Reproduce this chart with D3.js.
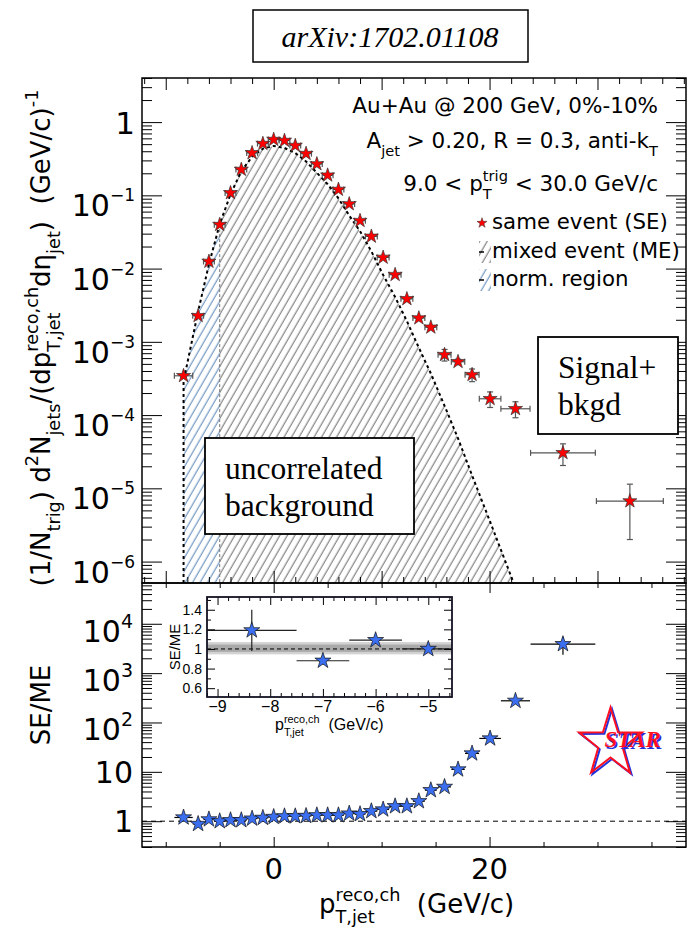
<!DOCTYPE html>
<html>
<head>
<meta charset="utf-8">
<script src="https://cdn.jsdelivr.net/npm/d3@7"></script>
<style>
  body { margin: 0; background: #fff; }
  svg text { font-family: "DejaVu Sans", sans-serif; white-space: pre; }
</style>
</head>
<body>
<div id="plot"></div>
<script>
// bin centres and half widths, p_T,jet^reco,ch (GeV/c)
const ptCenters = [-8.35, -7, -6, -5, -4, -3, -2, -1, 0, 1, 2, 3, 4, 5, 6, 7, 8,
  9.05, 10.14, 11.25, 12.34, 13.45, 14.56, 15.83, 17.08, 18.38, 20.05, 22.4, 26.8, 33.0];
const ptHalfWidth = [0.85, 0.5, 0.5, 0.5, 0.5, 0.5, 0.5, 0.5, 0.5, 0.5, 0.5, 0.5, 0.5, 0.5, 0.5, 0.5, 0.5,
  0.55, 0.55, 0.55, 0.55, 0.55, 0.55, 0.6, 0.62, 0.65, 1.0, 1.35, 3.0, 3.1];

// same event (SE) per-trigger yield
const sameEvent = [3.44e-4, 2.27e-3, 1.25e-2, 3.98e-2, 0.108, 0.225, 0.38, 0.508, 0.577, 0.559,
  0.478, 0.371, 0.268, 0.188, 0.12, 0.0763, 0.0451, 0.0275, 0.0142, 8.26e-3,
  3.86e-3, 2.11e-3, 1.58e-3, 6.67e-4, 5.35e-4, 3.56e-4, 1.67e-4, 1.22e-4, 3.05e-5, 6.7e-6];
const sameEventErr = [1.5e-5, 8e-5, 3e-4, 6e-4, 1e-3, 2e-3, 3e-3, 4e-3, 4e-3, 4e-3,
  4e-3, 3e-3, 2.5e-3, 2e-3, 1.5e-3, 1e-3, 7e-4, 5e-4, 3e-4, 2e-4,
  1.2e-4, 8e-5, 7e-5, 1.2e-4, 4.5e-5, 7e-5, 4e-5, 3e-5, 1e-5, 4.7e-6];

// mixed event (ME) distribution (dashed curve, hatched)
const mixedEvent = [2.9e-4, 2.6e-3, 1.14e-2, 4.05e-2, 0.103, 0.214, 0.336, 0.434, 0.473, 0.444,
  0.379, 0.29, 0.203, 0.142, 0.091, 0.053, 0.0324, 0.0172, 8.2e-3, 4.1e-3,
  1.92e-3, 8.3e-4, 3.7e-4, 1.34e-4, 4.8e-5, 1.5e-5, 3.5e-6, 4.4e-7];
const normRegionEnd = -5;

// SE/ME ratio
const ratio = [1.19, 0.88, 1.09, 1.0, 1.05, 1.05, 1.13, 1.17, 1.22, 1.26, 1.26, 1.28, 1.32, 1.32,
  1.32, 1.43, 1.39, 1.6, 1.73, 2.01, 2.01, 2.54, 4.25, 4.96, 11.2, 23.6, 47.5, 275, 3870];
const ratioErr = [0.21, 0.04, 0.04, 0.03, 0.03, 0.03, 0.03, 0.03, 0.03, 0.03, 0.03, 0.03, 0.03,
  0.04, 0.04, 0.05, 0.05, 0.06, 0.07, 0.09, 0.1, 0.15, 0.3, 0.4, 1.2, 3, 7, 40, 1500];
const insetPoints = 4;
const bandOuter = [0.945, 1.07];
const bandInner = [0.97, 1.045];

const xTickLabels = [0, 20];
const insetXTicks = [-9, -8, -7, -6, -5];
const insetYTicks = [0.6, 0.8, 1, 1.2, 1.4];

const infoLines = ["Au+Au @ 200 GeV, 0%-10%"];
const legendLabels = ["same event (SE)", "mixed event (ME)", "norm. region"];

// ---------------------------------------------------------------
const X0 = 142, X1 = 686, T0 = 78, T1 = 583, B0 = 583, B1 = 847;
const redStar = "#ff0000", blueStar = "#3b6ff0";

const svg = d3.select("#plot").append("svg")
    .attr("width", 688).attr("height", 930)
    .style("background", "#fff");
const defs = svg.append("defs");

function hatch(id, color) {
  const p = defs.append("pattern").attr("id", id)
      .attr("patternUnits", "userSpaceOnUse")
      .attr("width", 6.5).attr("height", 10)
      .attr("patternTransform", "rotate(30)");
  p.append("line").attr("x1", 3).attr("x2", 3).attr("y1", -1).attr("y2", 11)
      .attr("stroke", color).attr("stroke-width", 0.9);
}
hatch("hatchME", "#555");
hatch("hatchNorm", "#3d70aa");

function clip(id, x, y, w, h) {
  defs.append("clipPath").attr("id", id).append("rect")
      .attr("x", x).attr("y", y).attr("width", w).attr("height", h);
}

const x = d3.scaleLinear().domain([-12.2, 38.2]).range([X0, X1]);
const yTop = d3.scaleLog().domain([5.1e-7, 4]).range([T1, T0]);
const yBot = d3.scaleLog().domain([0.3, 6.7e4]).range([B1, B0]);

clip("clipTop", X0, T0, X1 - X0, T1 - T0);
clip("clipBot", X0, B0, X1 - X0, B1 - B0);
clip("clipNorm", X0, T0, x(normRegionEnd) - X0, T1 - T0);
clip("clipRest", x(normRegionEnd), T0, X1 - x(normRegionEnd), T1 - T0);

// text with super/subscripts, laid out left to right from x=0 baseline 0
function rich(parent, parts, size, family) {
  const g = parent.append("g");
  let cx = 0;
  const add = (txt, xx, yy, fs) => g.append("text").attr("x", xx).attr("y", yy)
      .attr("font-size", fs).style("font-family", family || null).text(txt);
  parts.forEach(p => {
    if (p.t !== undefined) {
      cx += add(p.t, cx, 0, size).node().getComputedTextLength();
    } else {
      let w = 0;
      if (p.sup) w = Math.max(w, add(p.sup, cx, -size * 0.45, size * 0.68).node().getComputedTextLength());
      if (p.sub) w = Math.max(w, add(p.sub, cx, size * 0.38, size * 0.68).node().getComputedTextLength());
      cx += w;
    }
  });
  g.width = cx;
  return g;
}

function isDecade(v) { const l = Math.log10(v); return Math.abs(l - Math.round(l)) < 1e-9; }

function yTicks(scale, major, minor, majLen, minLen) {
  [[X0, d3.axisRight], [X1, d3.axisLeft]].forEach(([xp, ax]) => {
    [[major, majLen], [minor, minLen]].forEach(([vals, len]) => {
      svg.append("g").attr("transform", `translate(${xp},0)`).attr("color", "#000")
          .call(ax(scale).tickValues(vals).tickSize(len).tickFormat(""))
          .call(g => g.select(".domain").remove());
    });
  });
}
function xTicks(yLow, yHigh, major, minor, majLen, minLen) {
  [[yLow, d3.axisTop], [yHigh, d3.axisBottom]].forEach(([yp, ax]) => {
    [[major, majLen], [minor, minLen]].forEach(([vals, len]) => {
      svg.append("g").attr("transform", `translate(0,${yp})`).attr("color", "#000")
          .call(ax(x).tickValues(vals).tickSize(len).tickFormat(""))
          .call(g => g.select(".domain").remove());
    });
  });
}

const star = s => d3.symbol(d3.symbolStar, s)();

// ================= top panel =================
const meData = mixedEvent.map((v, i) => ({ pt: ptCenters[i], v }));
const meArea = d3.area().x(d => x(d.pt)).y0(T1).y1(d => yTop(d.v));
const plotTop = svg.append("g").attr("clip-path", "url(#clipTop)");
plotTop.append("g").attr("clip-path", "url(#clipRest)")
  .append("path").attr("d", meArea(meData)).attr("fill", "url(#hatchME)");
plotTop.append("g").attr("clip-path", "url(#clipNorm)")
  .append("path").attr("d", meArea(meData)).attr("fill", "url(#hatchNorm)");
plotTop.append("line")
    .attr("x1", x(normRegionEnd)).attr("x2", x(normRegionEnd))
    .attr("y1", yTop(mixedEvent[ptCenters.indexOf(normRegionEnd)])).attr("y2", T1)
    .attr("stroke", "#777").attr("stroke-width", 1).attr("stroke-dasharray", "3,2");
const meLine = d3.line().x(d => x(d.pt)).y(d => yTop(d.v));
plotTop.append("path")
    .attr("d", meLine([{ pt: ptCenters[0], v: yTop.domain()[0] }, ...meData]))
    .attr("fill", "none").attr("stroke", "#000").attr("stroke-width", 2)
    .attr("stroke-dasharray", "3,3");

// SE error bars and markers
const seData = sameEvent.map((v, i) => ({ pt: ptCenters[i], hw: ptHalfWidth[i], v, e: sameEventErr[i] }));
const eb = plotTop.append("g").attr("stroke", "#555").attr("stroke-width", 1.2);
seData.forEach(d => {
  const yc = yTop(d.v), xl = x(d.pt - d.hw), xr = x(d.pt + d.hw);
  const yh = yTop(d.v + d.e), yl = yTop(Math.max(d.v - d.e, 1e-9));
  eb.append("line").attr("x1", xl).attr("x2", xr).attr("y1", yc).attr("y2", yc);
  eb.append("line").attr("x1", xl).attr("x2", xl).attr("y1", yc - 3).attr("y2", yc + 3);
  eb.append("line").attr("x1", xr).attr("x2", xr).attr("y1", yc - 3).attr("y2", yc + 3);
  eb.append("line").attr("x1", x(d.pt)).attr("x2", x(d.pt)).attr("y1", yh).attr("y2", yl);
  eb.append("line").attr("x1", x(d.pt) - 3).attr("x2", x(d.pt) + 3).attr("y1", yh).attr("y2", yh);
  eb.append("line").attr("x1", x(d.pt) - 3).attr("x2", x(d.pt) + 3).attr("y1", yl).attr("y2", yl);
});
plotTop.selectAll(".se").data(seData).join("path")
    .attr("d", star(62))
    .attr("transform", d => `translate(${x(d.pt)},${yTop(d.v)})`)
    .attr("fill", redStar).attr("stroke", "#333").attr("stroke-width", 0.7);

// axes of the top panel
const topTicks = yTop.ticks();
yTicks(yTop, topTicks.filter(isDecade), topTicks.filter(v => !isDecade(v)), 20, 10);
const txMaj = d3.range(-10, 39, 10), txMin = d3.range(-12, 39, 2).filter(v => v % 10 !== 0);
xTicks(T1, T0, txMaj, txMin, 12, 6);
topTicks.filter(isDecade).forEach(v => {
  const e = Math.round(Math.log10(v));
  const t = svg.append("text").attr("text-anchor", "end").attr("x", 135);
  if (e === 0) {
    t.attr("y", yTop(v) + 12).attr("font-size", 31).text("1");
  } else {
    t.attr("y", yTop(v) + 21).attr("font-size", 30).text("10");
    t.append("tspan").attr("dy", -15).attr("font-size", 17).text("\u2212" + (-e));
  }
});

// y title
const yTitle = rich(svg, [{ t: "(1/N" }, { sub: "trig" }, { t: ") d" }, { sup: "2" }, { t: "N" },
  { sub: "jets" }, { t: "/(dp" }, { sup: "reco,ch", sub: "T,jet" }, { t: "d\u03b7" }, { sub: "jet" },
  { t: ")  (GeV/c)" }, { sup: "-1" }], 26);
yTitle.attr("transform", `translate(50,${338 + yTitle.width / 2}) rotate(-90)`);

// info lines and legend
const info1 = rich(svg, [{ t: infoLines[0] }], 21.5);
info1.attr("transform", `translate(${658 - info1.width},113)`);
const info2 = rich(svg, [{ t: "A" }, { sub: "jet" }, { t: " > 0.20, R = 0.3, anti-k" }, { sub: "T" }], 21.5);
info2.attr("transform", `translate(${658 - info2.width},148)`);
const info3 = rich(svg, [{ t: "9.0 < p" }, { sup: "trig", sub: "T" }, { t: " < 30.0 GeV/c" }], 21.5);
info3.attr("transform", `translate(${658 - info3.width},191)`);

const legY = [223, 252, 280];
legendLabels.forEach((s, i) => {
  svg.append("text").attr("x", 492).attr("y", legY[i] + 6).attr("font-size", 21.3).text(s);
});
svg.append("path").attr("d", star(32)).attr("transform", `translate(482,${legY[0]})`)
    .attr("fill", redStar).attr("stroke", "#333").attr("stroke-width", 0.5);
[["hatchME", legY[1]], ["hatchNorm", legY[2]]].forEach(([id, yy]) => {
  svg.append("rect").attr("x", 479).attr("y", yy - 11).attr("width", 12).attr("height", 22)
      .attr("fill", `url(#${id})`);
  svg.append("line").attr("x1", 479).attr("x2", 484).attr("y1", yy).attr("y2", yy)
      .attr("stroke", "#000").attr("stroke-width", 1.5);
});

// text boxes
function box(x0, y0, w, h, lines, dy) {
  svg.append("rect").attr("x", x0).attr("y", y0).attr("width", w).attr("height", h)
      .attr("fill", "#fff").attr("stroke", "#000").attr("stroke-width", 1.8);
  lines.forEach((s, i) => svg.append("text").attr("x", x0 + 20).attr("y", y0 + dy + i * 37)
      .attr("font-size", 31.5).style("font-family", "'Liberation Serif', serif").text(s));
}
box(538, 337, 140, 97, ["Signal+", "bkgd"], 41);
box(205, 438, 209, 96, ["uncorrelated", "background"], 41);

// frame
svg.append("rect").attr("x", X0).attr("y", T0).attr("width", X1 - X0).attr("height", T1 - T0)
    .attr("fill", "none").attr("stroke", "#000").attr("stroke-width", 1.5);

// ================= bottom panel =================
const plotBot = svg.append("g").attr("clip-path", "url(#clipBot)");
plotBot.append("line").attr("x1", X0).attr("x2", X1).attr("y1", yBot(1)).attr("y2", yBot(1))
    .attr("stroke", "#000").attr("stroke-width", 1).attr("stroke-dasharray", "5,4");
const rData = ratio.map((v, i) => ({ pt: ptCenters[i], hw: ptHalfWidth[i], v, e: ratioErr[i] }));
const eb2 = plotBot.append("g").attr("stroke", "#000").attr("stroke-width", 1.2);
rData.forEach(d => {
  const yc = yBot(d.v);
  eb2.append("line").attr("x1", x(d.pt - d.hw)).attr("x2", x(d.pt + d.hw)).attr("y1", yc).attr("y2", yc);
  eb2.append("line").attr("x1", x(d.pt)).attr("x2", x(d.pt))
      .attr("y1", yBot(d.v + d.e)).attr("y2", yBot(d.v - d.e));
});
plotBot.selectAll(".r").data(rData).join("path")
    .attr("d", star(80))
    .attr("transform", d => `translate(${x(d.pt)},${yBot(d.v)})`)
    .attr("fill", blueStar).attr("stroke", "#111").attr("stroke-width", 0.7);

const botTicks = yBot.ticks();
yTicks(yBot, botTicks.filter(isDecade), botTicks.filter(v => !isDecade(v)), 20, 10);
xTicks(B1, B0, [0, 20], d3.range(-10, 38, 5).filter(v => v % 20 !== 0), 10, 5);
botTicks.filter(isDecade).forEach(v => {
  const e = Math.round(Math.log10(v));
  const t = svg.append("text").attr("text-anchor", "end").attr("x", 133);
  if (e < 2) {
    t.attr("y", yBot(v) + 11).attr("font-size", 30).text(e === 0 ? "1" : "10");
  } else {
    t.attr("y", yBot(v) + 18).attr("font-size", 30).text("10");
    t.append("tspan").attr("dy", -14).attr("font-size", 19).text(e);
  }
});
xTickLabels.forEach(v => svg.append("text").attr("x", x(v)).attr("y", 879)
    .attr("text-anchor", "middle").attr("font-size", 29).text(v));

svg.append("text").attr("transform", "translate(50,705) rotate(-90)")
    .attr("text-anchor", "middle").attr("font-size", 26).text("SE/ME");
const xTitle = rich(svg, [{ t: "p" }, { sup: "reco,ch", sub: "T,jet" }, { t: "  (GeV/c)" }], 26);
xTitle.attr("transform", "translate(319,913)");

svg.append("rect").attr("x", X0).attr("y", B0).attr("width", X1 - X0).attr("height", B1 - B0)
    .attr("fill", "none").attr("stroke", "#000").attr("stroke-width", 1.5);

// ================= inset =================
const IX0 = 207, IX1 = 452, IY0 = 597, IY1 = 697;
const xIn = d3.scaleLinear().domain([-9.2, -4.55]).range([IX0, IX1]);
const yIn = d3.scaleLinear().domain([0.51, 1.53]).range([IY1, IY0]);
clip("clipIn", IX0, IY0, IX1 - IX0, IY1 - IY0);
svg.append("rect").attr("x", IX0).attr("y", IY0).attr("width", IX1 - IX0).attr("height", IY1 - IY0)
    .attr("fill", "#fff");
const inG = svg.append("g").attr("clip-path", "url(#clipIn)");
inG.append("rect").attr("x", IX0).attr("width", IX1 - IX0)
    .attr("y", yIn(bandOuter[1])).attr("height", yIn(bandOuter[0]) - yIn(bandOuter[1])).attr("fill", "#d2d2d2");
inG.append("rect").attr("x", IX0).attr("width", IX1 - IX0)
    .attr("y", yIn(bandInner[1])).attr("height", yIn(bandInner[0]) - yIn(bandInner[1])).attr("fill", "#aaa");
inG.append("line").attr("x1", IX0).attr("x2", IX1).attr("y1", yIn(1)).attr("y2", yIn(1))
    .attr("stroke", "#000").attr("stroke-width", 1).attr("stroke-dasharray", "4,3");
const inData = rData.slice(0, insetPoints);
const eb3 = inG.append("g").attr("stroke", "#222").attr("stroke-width", 1.2);
inData.forEach(d => {
  const yc = yIn(d.v);
  eb3.append("line").attr("x1", xIn(d.pt - d.hw)).attr("x2", xIn(d.pt + d.hw)).attr("y1", yc).attr("y2", yc);
  eb3.append("line").attr("x1", xIn(d.pt)).attr("x2", xIn(d.pt))
      .attr("y1", yIn(d.v + d.e)).attr("y2", yIn(d.v - d.e));
});
inG.selectAll(".ri").data(inData).join("path")
    .attr("d", star(80))
    .attr("transform", d => `translate(${xIn(d.pt)},${yIn(d.v)})`)
    .attr("fill", blueStar).attr("stroke", "#111").attr("stroke-width", 0.7);

const inAxes = svg.append("g").attr("color", "#000");
const inXMin = d3.range(-9.2, -4.5, 0.2).filter(v => Math.abs(v - Math.round(v)) > 1e-6);
[[IY1, d3.axisTop], [IY0, d3.axisBottom]].forEach(([yp, ax]) => {
  inAxes.append("g").attr("transform", `translate(0,${yp})`).call(ax(xIn).tickValues(insetXTicks).tickSize(8).tickFormat(""));
  inAxes.append("g").attr("transform", `translate(0,${yp})`).call(ax(xIn).tickValues(inXMin).tickSize(4).tickFormat(""));
});
const inYMin = d3.range(0.6, 1.55, 0.1).filter(v => insetYTicks.every(t => Math.abs(t - v) > 1e-6));
[[IX0, d3.axisRight], [IX1, d3.axisLeft]].forEach(([xp, ax]) => {
  inAxes.append("g").attr("transform", `translate(${xp},0)`).call(ax(yIn).tickValues(insetYTicks).tickSize(8).tickFormat(""));
  inAxes.append("g").attr("transform", `translate(${xp},0)`).call(ax(yIn).tickValues(inYMin).tickSize(4).tickFormat(""));
});
inAxes.selectAll(".domain").remove();
svg.append("rect").attr("x", IX0).attr("y", IY0).attr("width", IX1 - IX0).attr("height", IY1 - IY0)
    .attr("fill", "none").attr("stroke", "#112").attr("stroke-width", 1.8);
const lsans = "'Liberation Sans', Arial, sans-serif";
insetXTicks.forEach(v => svg.append("text").attr("x", xIn(v)).attr("y", 712)
    .attr("text-anchor", "middle").attr("font-size", 16).style("font-family", lsans)
    .text("\u2212" + (-v)));
insetYTicks.forEach(v => svg.append("text").attr("x", 202).attr("y", yIn(v) + 5)
    .attr("text-anchor", "end").attr("font-size", 14).style("font-family", lsans).text(v));
svg.append("text").attr("transform", "translate(180,647) rotate(-90)")
    .attr("text-anchor", "middle").attr("font-size", 15).style("font-family", lsans).text("SE/ME");
const inTitle = rich(svg, [{ t: "p" }, { sup: "reco,ch", sub: "T,jet" }, { t: "  (GeV/c)" }], 16, lsans);
inTitle.attr("transform", "translate(275,730)");

// ================= STAR logo =================
function starOutline(cx, cy, R, r, sx) {
  return d3.range(10).map(i => {
    const a = -Math.PI / 2 + i * Math.PI / 5, rad = i % 2 ? r : R;
    return [cx + sx * rad * Math.cos(a), cy + rad * Math.sin(a)];
  });
}
const logo = svg.append("g");
logo.append("polygon").attr("points", starOutline(612, 745, 36, 14, 0.92).join(" "))
    .attr("fill", "none").attr("stroke", "#2233dd").attr("stroke-width", 2);
logo.append("polygon").attr("points", starOutline(610.5, 743.5, 36, 14, 0.92).join(" "))
    .attr("fill", "none").attr("stroke", "#ff1020").attr("stroke-width", 2);
logo.append("text").attr("x", 606).attr("y", 748.5).attr("font-size", 23)
    .style("font-family", "'Liberation Serif', serif").attr("font-weight", "bold").attr("font-style", "italic")
    .attr("fill", "#2233dd").text("STAR");
logo.append("text").attr("x", 604.5).attr("y", 747).attr("font-size", 23)
    .style("font-family", "'Liberation Serif', serif").attr("font-weight", "bold").attr("font-style", "italic")
    .attr("fill", "#ff1020").text("STAR");

// ================= title box =================
svg.append("rect").attr("x", 253).attr("y", 10).attr("width", 275).attr("height", 52)
    .attr("fill", "#fff").attr("stroke", "#000").attr("stroke-width", 1.5);
svg.append("text").attr("x", 390).attr("y", 47).attr("text-anchor", "middle")
    .attr("font-size", 30).attr("font-style", "italic")
    .style("font-family", "'Liberation Serif', serif").text("arXiv:1702.01108");
</script>
</body>
</html>
